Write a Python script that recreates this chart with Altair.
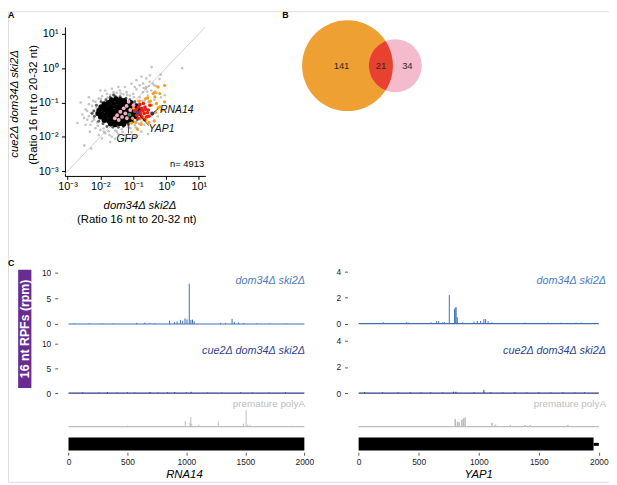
import math
import altair as alt
import pandas as pd

W, H = 609, 477
FONT = "Liberation Sans"

# ---------------- Panel A : log10(ratio 16 nt / 20-32 nt) ----------------
# (x = dom34Δ ski2Δ, y = cue2Δ dom34Δ ski2Δ)
grey_pts = [(-2.55,-1.35),(-2.45,-1.20),(-2.40,-1.50),(-2.35,-1.05),(-2.30,-1.65),(-2.28,-1.30),
            (-2.22,-0.95),(-2.20,-1.45),(-2.15,-1.75),(-2.12,-1.15),(-2.10,-1.58),(-2.05,-0.88),
            (-2.00,-1.80),(-1.95,-0.82),(-1.90,-1.76),(-1.85,-1.90),(-1.80,-0.75),(-1.75,-1.84),
            (-1.70,-0.78),(-1.65,-2.00),(-1.60,-0.70),(-1.55,-1.82),(-1.50,-0.72),(-1.45,-1.92),
            (-1.40,-0.65),(-1.35,-1.78),(-1.30,-0.76),(-1.25,-1.95),(-1.20,-0.70),(-1.15,-1.72),
            (-1.10,-0.80),(-1.05,-1.86),(-1.00,-0.75),(-0.95,-1.66),(-0.90,-0.62),(-0.85,-1.80),
            (-0.80,-0.85),(-0.75,-1.58),(-0.70,-0.70),(-0.65,-0.95),(-0.60,-0.55),(-0.55,-0.80),
            (-0.50,-0.40),(-0.45,-0.65),(-0.60,-0.30),(-0.70,-0.45),(-0.44,0.03),(-0.16,-0.19),
            (-0.49,-0.21),(-0.36,-0.50),(-0.62,-0.60),(-0.04,-0.79),(0.49,0.00),(-0.30,-0.52),
            (-0.20,-0.32),(-0.35,-0.92),(-0.25,-1.40),(-0.15,-0.85),(-2.49,-2.25),(-2.28,-2.34),
            (-2.70,-1.60),(-2.60,-1.00),(-1.95,-2.05),(-1.70,-2.15),(-1.30,-2.10),(-0.95,-2.00),
            (-0.55,-1.92),(-0.45,-1.30),(-0.80,-0.50),(-1.25,-0.55),(-1.65,-0.60),(-2.00,-0.65),
            (-2.19,-1.50),(-1.05,-0.45),(-0.90,-0.35),(-0.75,-0.25),
            (-2.35,-1.40),(-2.25,-1.10),(-2.25,-1.55),(-2.15,-0.98),(-2.08,-1.68),(-1.98,-0.90),
            (-1.90,-1.85),(-1.78,-0.86),(-1.72,-1.95),(-1.58,-0.78),(-1.50,-1.85),(-1.38,-0.74),
            (-1.32,-1.86),(-1.18,-0.78),(-1.08,-1.75),(-0.98,-0.85),(-0.92,-1.72),(-0.85,-0.95),
            (-0.82,-1.62),(-0.72,-0.95),(-0.66,-1.65),(-2.40,-1.25),(-2.45,-1.65),(-2.32,-1.85),
            (-2.05,-1.95),(-1.55,-2.05),(-1.10,-2.05),(-0.75,-1.85),(-0.58,-0.68),(-0.68,-0.58),
            (-0.95,-0.55),(-1.45,-0.55),(-1.85,-0.65),(-2.35,-0.85),(-2.50,-1.45),(-0.40,-0.45),
            (-0.28,-0.72),(-0.52,-0.52)]
dark_pts = [(-2.20,-1.25),(-2.18,-1.40),(-2.12,-1.08),(-2.05,-1.55),(-1.98,-0.98),(-1.92,-1.62),
            (-1.83,-0.92),(-1.80,-1.70),(-1.70,-0.85),(-1.62,-1.72),(-1.55,-0.82),(-1.45,-1.72),
            (-1.40,-0.83),(-1.30,-1.70),(-1.22,-0.88),(-1.15,-1.64),(-1.10,-0.92),(-1.00,-1.56),
            (-0.95,-0.98),(-0.88,-1.50),(-0.80,-1.08),(-0.75,-1.40),(-0.72,-1.18),(-0.70,-1.30),
            (-2.25,-1.32),(-1.60,-0.78)]
black_pts = [(-1.66,-0.93),(-1.52,-0.90),(-1.39,-0.92),(-1.27,-0.95),
             (-1.88,-1.04),(-1.75,-1.01),(-1.61,-1.03),(-1.47,-0.99),(-1.34,-1.02),(-1.20,-1.04),(-1.07,-1.01),
             (-1.98,-1.13),(-1.85,-1.11),(-1.70,-1.14),(-1.57,-1.10),(-1.44,-1.12),(-1.30,-1.13),(-1.16,-1.11),
             (-1.03,-1.12),(-0.91,-1.10),
             (-2.04,-1.23),(-1.91,-1.21),(-1.77,-1.22),(-1.63,-1.24),(-1.50,-1.21),(-1.36,-1.23),(-1.23,-1.22),
             (-1.09,-1.20),(-0.96,-1.22),(-0.82,-1.21),
             (-2.07,-1.32),(-1.94,-1.34),(-1.80,-1.31),(-1.66,-1.33),(-1.53,-1.32),(-1.39,-1.34),(-1.25,-1.31),
             (-1.12,-1.33),(-0.98,-1.31),(-0.85,-1.30),
             (-1.99,-1.42),(-1.86,-1.44),(-1.72,-1.41),(-1.59,-1.43),(-1.45,-1.42),(-1.31,-1.44),(-1.18,-1.41),
             (-1.05,-1.43),(-0.93,-1.40),
             (-1.88,-1.52),(-1.74,-1.54),(-1.60,-1.51),(-1.47,-1.53),(-1.33,-1.52),(-1.20,-1.54),(-1.08,-1.50),
             (-1.69,-1.62),(-1.55,-1.64),(-1.42,-1.61),(-1.29,-1.63)]
orange_pts = [(-0.04,-0.50),(-0.24,-0.55),(-0.39,-0.74),(-0.19,-0.74),(-0.34,-0.84),(-0.62,-0.89),
              (-0.52,-0.98),(-0.04,-0.98),(-0.29,-1.03),(-0.44,-1.08),(-0.24,-1.16),(-0.69,-1.17),
              (-0.59,-1.25),(-0.74,-1.29),(-0.84,-1.33),(-0.46,-1.37),(-0.69,-1.42),(-0.79,-1.48),
              (-0.62,-1.52),(-0.52,-1.58),(-0.92,-1.58),(-0.88,-1.77),(-0.76,-1.64),(-1.02,-1.46),
              (-0.36,-1.54),(-0.12,-1.23),(-0.32,-1.29),(-0.81,-0.96),(-0.99,-1.17),(-0.56,-0.87),
              (-0.47,-0.96),(-0.19,-1.13),(-0.64,-1.18),(-0.34,-0.70),(-1.05,-1.60),(-0.95,-1.25)]
red_pts = [(-0.84,-1.13),(-0.74,-1.17),(-0.64,-1.13),(-0.79,-1.27),(-0.66,-1.32),(-0.89,-1.37),
           (-0.54,-1.22),(-0.59,-1.42),(-0.74,-1.42),(-0.84,-1.46),(-0.96,-1.25),(-0.49,-1.08),
           (-0.69,-1.03),(-0.56,-1.30),(-0.70,-1.24),(-0.78,-1.35),(-0.62,-1.20),(-0.90,-1.20),
           (-0.52,-1.40),(-0.66,-1.50),(-0.80,-1.05)]
pink_pts = [(-1.14,-0.98),(-1.29,-1.17),(-1.39,-1.27),(-1.24,-1.32),(-1.34,-1.42),(-1.44,-1.51),
            (-1.09,-1.22),(-1.19,-1.46),(-1.49,-1.37),(-0.99,-1.08),(-1.56,-1.46),(-1.20,-1.10)]
named_genes = ["RNA14", "YAP1", "GFP"]
named_x = [-0.415, -0.867, -1.116]
named_y = [-1.321, -1.300, -1.358]
named_col = ["#2B2F7F", "#4B3F99", "#2E8B57"]
lead_x = [-0.244, -0.524, -1.146]
lead_y = [-1.186, -1.675, -1.904]
n_genes = 4913

# ---------------- Panel B : Venn counts ----------------
venn_counts = [141, 21, 34]   # orange only, both, pink only

# ---------------- Panel C : 16 nt RPF profiles ----------------
rna14_dom_pos = [48,173,285,382,577,647,690,731,857,899,921,949,968,988,1005,1024,1038,1052,1066,
                 1289,1331,1387,1406,1443,1485,1596,1707,1847]
rna14_dom_val = [0.1,0.1,0.1,0.1,0.2,0.25,0.2,0.15,0.65,0.4,0.5,0.8,0.6,1.1,0.9,7.9,0.8,0.85,0.5,
                 0.2,0.2,1.0,0.4,0.3,0.15,0.1,0.1,0.1]
rna14_cue_pos = [120,260,330,410,500,560,690,760,840,900,1000,1040,1180,1300,1460,1560,1700,1840]
rna14_cue_val = [0.15,0.1,0.2,0.1,0.15,0.1,0.2,0.1,0.15,0.2,0.15,0.25,0.1,0.1,0.15,0.1,0.1,0.15]
rna14_pa_pos = [500,990,1030,1037,1045,1105,1270,1484,1506,1520,1540,1900]
rna14_pa_val = [1,6,4,9.5,3,2,5,3,16.7,2,1.5,1]
yap1_dom_pos = [206,261,398,412,604,650,667,700,714,755,799,804,812,821,864,961,988,1016,1043,1057,
                1078,1111,1180,1386,1578,1687,1811,1852]
yap1_dom_val = [0.1,0.05,0.1,0.08,0.1,0.2,0.2,0.1,0.12,2.19,1.1,1.23,1.26,0.5,0.1,0.15,0.2,0.2,0.35,0.35,
                0.2,0.1,0.05,0.08,0.08,0.08,0.08,0.08]
yap1_cue_pos = [50,200,330,430,520,600,700,790,810,960,1043,1100,1200,1300,1400,1500,1600,1700,1800,1880]
yap1_cue_val = [0.08,0.06,0.05,0.06,0.05,0.06,0.05,0.1,0.1,0.06,0.25,0.06,0.05,0.06,0.05,0.06,0.05,0.06,0.05,0.06]
yap1_pa_pos = [804,823,837,859,873,887,1111,1139,1262,1386,1427,1742]
yap1_pa_val = [7.7,5,4.5,7,8.5,9.3,4,2,1.5,1.5,1.5,1.5]
rna14_cds = [0, 2000]
yap1_cds = [0, 1956]
yap1_utr = [1956, 2000]
track_len = 2000
ticks_pos = [0, 500, 1000, 1500, 2000]

ONE = pd.DataFrame({"k": [0]})
layers = []


def S(dom, rng):
    return alt.Scale(domain=dom, range=rng, nice=False, zero=False)


def text(t, x, y, size, color="#000", align="center", baseline="middle",
         style="normal", weight="normal", angle=0):
    return alt.Chart(ONE).mark_text(
        text=t, font=FONT, fontSize=size, color=color, align=align, baseline=baseline,
        fontStyle=style, fontWeight=weight, angle=angle
    ).encode(x=alt.value(x), y=alt.value(y))


# ================= Panel A =================
AXD, AXR = [-3.08, 1.2], [57.7, 200.0]
AYD, AYR = [-3.14, 1.2], [167.0, 16.0]
SUP = ("datum.value == -3 ? '10⁻³' : datum.value == -2 ? '10⁻²' : datum.value == -1 ? '10⁻¹'"
       " : datum.value == 0 ? '10⁰' : '10¹'")
a_common = dict(grid=False, domainColor="#000", domainWidth=1, tickColor="#000", tickWidth=1,
                tickSize=3.5, labelColor="#000", labelFont=FONT, labelFontSize=11, title=None,
                labelFlush=False, labelOverlap=False, values=[-3, -2, -1, 0, 1], labelExpr=SUP)
a_xaxis = alt.Axis(orient="bottom", offset=167 - H, labelPadding=1.5, **a_common)
a_yaxis = alt.Axis(orient="left", offset=-57.7, labelPadding=3.5, **a_common)


def ax(axis=None):
    return alt.X("x:Q", scale=S(AXD, AXR), axis=axis)


def ay(axis=None):
    return alt.Y("y:Q", scale=S(AYD, AYR), axis=axis)


layers.append(alt.Chart(pd.DataFrame({"x": AXD, "y": AXD})).mark_line(
    color="#D0D0D0", strokeWidth=1, clip=True).encode(x=ax(a_xaxis), y=ay(a_yaxis)))


def pts_layer(pts, color, size, opacity):
    return alt.Chart(pd.DataFrame(pts, columns=["x", "y"])).mark_circle(
        color=color, size=size, opacity=opacity).encode(x=ax(), y=ay())


layers.append(pts_layer(grey_pts, "#9C9C9C", 7, 0.6))
layers.append(pts_layer(dark_pts, "#3A3A3A", 9, 0.8))
layers.append(pts_layer(black_pts, "#000000", 30, 1))
layers.append(pts_layer(orange_pts, "#F5A11E", 11, 1))
layers.append(pts_layer(red_pts, "#EE1B16", 13, 1))
layers.append(pts_layer(pink_pts, "#F4B0C2", 15, 1))

lead_df = pd.DataFrame({"x": lead_x, "y": lead_y, "x2": named_x, "y2": named_y})
layers.append(alt.Chart(lead_df).mark_rule(color="#111", strokeWidth=0.8).encode(
    x=ax(), y=ay(), x2="x2:Q", y2="y2:Q"))
named_df = pd.DataFrame({"x": named_x, "y": named_y, "c": named_col})
layers.append(alt.Chart(named_df).mark_circle(size=16, opacity=1).encode(
    x=ax(), y=ay(), color=alt.Color("c:N", scale=None)))

lab_left = pd.DataFrame({"x": [-0.18], "y": [-1.215], "t": [named_genes[0]]})
lab_mid = pd.DataFrame({"x": [-0.139, -1.185], "y": [-1.775, -2.057], "t": named_genes[1:]})
layers.append(alt.Chart(lab_left).mark_text(font=FONT, fontSize=10.5, fontStyle="italic",
                                             align="left", color="#111").encode(x=ax(), y=ay(), text="t:N"))
layers.append(alt.Chart(lab_mid).mark_text(font=FONT, fontSize=10.5, fontStyle="italic",
                                            align="center", color="#111").encode(x=ax(), y=ay(), text="t:N"))
layers.append(text(f"n= {n_genes}", 198.7, 155.3, 9.5, align="right"))
layers.append(text("dom34Δ ski2Δ", 133.7, 197, 11.5, style="italic"))
layers.append(text("(Ratio 16 nt to 20-32 nt)", 130.5, 212, 11.5))
layers.append(text("cue2Δ dom34Δ ski2Δ", 7.3, 94, 11.5, style="italic", angle=270))
layers.append(text("(Ratio 16 nt to 20-32 nt)", 26, 95, 11.5, angle=270))

# ================= Panel B (area-proportional Venn) =================
A_tot = venn_counts[0] + venn_counts[1]
B_tot = venn_counts[2] + venn_counts[1]
AB = venn_counts[1]
ra = math.sqrt(A_tot / math.pi)
rb = math.sqrt(B_tot / math.pi)


def lens(d, r1, r2):
    a1 = r1 * r1 * math.acos((d * d + r1 * r1 - r2 * r2) / (2 * d * r1))
    a2 = r2 * r2 * math.acos((d * d + r2 * r2 - r1 * r1) / (2 * d * r2))
    a3 = 0.5 * math.sqrt((-d + r1 + r2) * (d + r1 - r2) * (d - r1 + r2) * (d + r1 + r2))
    return a1 + a2 - a3


lo, hi = abs(ra - rb) + 1e-9, ra + rb - 1e-9
for _ in range(100):
    mid = (lo + hi) / 2
    if lens(mid, ra, rb) > AB:
        lo = mid
    else:
        hi = mid
dv = (lo + hi) / 2

VR, VCX, VCY = 46.0, 344.0, 55.3
k = VR / ra
vxs = S([-ra, ra], [VCX - VR, VCX + VR])
vys = S([-ra, ra], [VCY + VR, VCY - VR])
circ_df = pd.DataFrame({"x": [0.0, dv], "y": [0.0, 0.0],
                        "sz": [(2 * ra * k) ** 2, (2 * rb * k) ** 2],
                        "c": ["#EFA033", "#F4BBCC"]})
layers.append(alt.Chart(circ_df).mark_circle(opacity=1).encode(
    x=alt.X("x:Q", scale=vxs, axis=None), y=alt.Y("y:Q", scale=vys, axis=None),
    size=alt.Size("sz:Q", scale=None), color=alt.Color("c:N", scale=None)))

x0 = (dv * dv + ra * ra - rb * rb) / (2 * dv)
hh = math.sqrt(max(ra * ra - x0 * x0, 0))
outline = []
pb, pt = math.atan2(hh, x0 - dv), math.atan2(-hh, x0 - dv) + 2 * math.pi
for i in range(41):
    ph = pb + (pt - pb) * i / 40
    outline.append((dv + rb * math.cos(ph), rb * math.sin(ph)))
tt, tb = math.atan2(-hh, x0), math.atan2(hh, x0)
for i in range(41):
    th = tt + (tb - tt) * i / 40
    outline.append((ra * math.cos(th), ra * math.sin(th)))
lens_path = "M " + " L ".join(f"{px / ra:.4f} {py / ra:.4f}" for px, py in outline) + " Z"
layers.append(alt.Chart(pd.DataFrame({"x": [0.0], "y": [0.0]})).mark_point(
    shape=lens_path, filled=True, color="#E8412F", opacity=1, strokeWidth=0,
    size=(2 * VR) ** 2).encode(x=alt.X("x:Q", scale=vxs, axis=None),
                                y=alt.Y("y:Q", scale=vys, axis=None)))
venn_lab = pd.DataFrame({
    "x": [((-ra + dv - rb) / 2) / 2, (dv - rb + ra) / 2, (ra + dv + rb) / 2],
    "y": [0.0, 0.0, 0.0], "t": [str(v) for v in venn_counts]})
layers.append(alt.Chart(venn_lab).mark_text(font=FONT, fontSize=9.5, color="#2a2a2a").encode(
    x=alt.X("x:Q", scale=vxs, axis=None), y=alt.Y("y:Q", scale=vys, axis=None), text="t:N"))

# ================= Panel C =================
LXR, RXR = [61.3, 300.3], [355.3, 598.7]
XD = [0, track_len]
c_common = dict(grid=False, domain=False, tickColor="#333", tickWidth=0.8, tickSize=3,
                labelColor="#222", labelFont=FONT, labelFontSize=8.5, title=None,
                labelFlush=False, labelOverlap=False)
BLUE1, BLUE2, GREY = "#3C6FB8", "#2B3B8E", "#BEBEBE"


def track(xr, yd, yr, pos, val, color, yaxis=None, width=1.0):
    xs, ys = S(XD, xr), S(yd, yr)
    base = alt.Chart(pd.DataFrame({"s": [0], "e": [track_len], "z": [0]})).mark_rule(
        color=color, strokeWidth=1.2).encode(
        x=alt.X("s:Q", scale=xs, axis=None), x2="e:Q", y=alt.Y("z:Q", scale=ys, axis=None))
    spikes = alt.Chart(pd.DataFrame({"pos": pos, "val": val, "zero": 0})).mark_rule(
        color=color, strokeWidth=width).encode(
        x=alt.X("pos:Q", scale=xs, axis=None), y=alt.Y("val:Q", scale=ys, axis=yaxis), y2="zero:Q")
    return [base, spikes]


def yax(off, vals):
    return alt.Axis(orient="left", offset=off, values=vals, labelPadding=4, **c_common)


layers += track(LXR, [0, 10], [317, 265.3], rna14_dom_pos, rna14_dom_val, BLUE1, yax(-50.3, [0, 5, 10]))
layers += track(LXR, [0, 10], [387, 337], rna14_cue_pos, rna14_cue_val, BLUE2, yax(-50.3, [0, 5, 10]))
layers += track(LXR, [0, 20], [421, 401], rna14_pa_pos, rna14_pa_val, GREY)
layers += track(RXR, [0, 4], [316.7, 263.7], yap1_dom_pos, yap1_dom_val, BLUE1, yax(-344, [0, 2, 4]))
layers += track(RXR, [0, 4], [387, 334], yap1_cue_pos, yap1_cue_val, BLUE2, yax(-344, [0, 2, 4]))
layers += track(RXR, [0, 20], [421, 401], yap1_pa_pos, yap1_pa_val, GREY, width=1.6)

xax = alt.Axis(orient="bottom", offset=447 - H, values=ticks_pos, labelPadding=2.5, format="d", **c_common)


def gene_bar(xr, seg, y1, y2, axis=None):
    return alt.Chart(pd.DataFrame({"s": [seg[0]], "e": [seg[1]]})).mark_rect(color="#000").encode(
        x=alt.X("s:Q", scale=S(XD, xr), axis=axis), x2="e:Q", y=alt.value(y1), y2=alt.value(y2))


layers.append(gene_bar(LXR, rna14_cds, 432, 445.3, xax))
layers.append(gene_bar(RXR, yap1_cds, 432, 445.3, xax))
layers.append(gene_bar(RXR, yap1_utr, 437.5, 440.5))

for xr_right in (301, 606):
    layers.append(text("dom34Δ ski2Δ", xr_right, 273, 11, color="#4A7DC2", align="right", style="italic"))
    layers.append(text("cue2Δ dom34Δ ski2Δ", xr_right, 344.3, 11, color="#2E4593", align="right", style="italic"))
    layers.append(text("premature polyA", xr_right, 397.7, 10, color="#BDBDBD", align="right"))
layers.append(text("RNA14", 178.8, 470, 11.5, style="italic"))
layers.append(text("YAP1", 477, 470, 11.5, style="italic"))

layers.append(alt.Chart(ONE).mark_rect(color="#6A2C91").encode(
    x=alt.value(10.3), x2=alt.value(23.7), y=alt.value(262), y2=alt.value(382)))
layers.append(text("16 nt RPFs (rpm)", 17.3, 322, 12.5, color="#FFFFFF", weight="bold", angle=270))

# panel letters
layers.append(text("A", 0, 0, 9, align="left", baseline="top", weight="bold"))
layers.append(text("B", 278, 0, 9, align="left", baseline="top", weight="bold"))
layers.append(text("C", 0, 251, 9, align="left", baseline="top", weight="bold"))

chart = alt.layer(*layers).resolve_scale(x="independent", y="independent").properties(
    width=W, height=H, autosize=alt.AutoSizeParams(type="none"), padding=0
).configure_view(stroke=None).configure(font=FONT)

chart.save("out.html", embed_options={"renderer": "svg", "actions": False})
